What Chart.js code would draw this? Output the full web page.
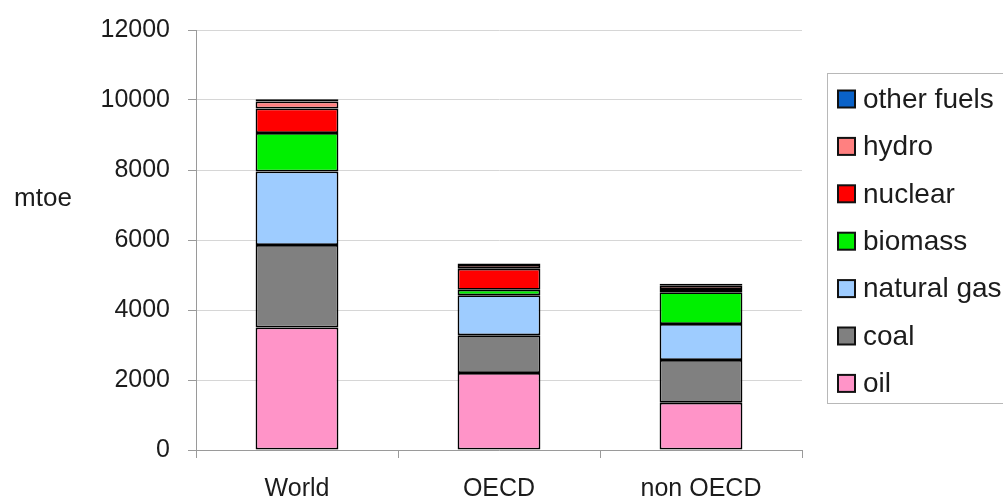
<!DOCTYPE html>
<html>
<head>
<meta charset="utf-8">
<script src="https://cdn.jsdelivr.net/npm/chart.js@4/dist/chart.umd.min.js"></script>
<style>
  html, body { margin: 0; padding: 0; background: #ffffff; overflow: hidden; }
  canvas { display: block; }
</style>
</head>
<body>
<canvas id="energy" width="1003" height="500"></canvas>
<script>
// Primary energy supply by fuel, in mtoe
const regions = ['World', 'OECD', 'non OECD'];
const oil        = [3500, 2200, 1350];
const coal       = [2360, 1080, 1220];
const naturalGas = [2100, 1140, 1030];
const biomass    = [1100,  160,  910];
const nuclear    = [ 700,  600,   90];
const hydro      = [ 200,  105,  110];
const otherFuels = [  60,   45,   40];
const yTicks = [0, 2000, 4000, 6000, 8000, 10000, 12000];
const unitLabel = 'mtoe';

const FONT = '"Liberation Sans", Arial, Helvetica, sans-serif';
const TEXT = '#1c1c1c';

const series = [
  { label: 'oil',         data: oil,        color: '#FF94C8' },
  { label: 'coal',        data: coal,       color: '#808080' },
  { label: 'natural gas', data: naturalGas, color: '#9ECCFF' },
  { label: 'biomass',     data: biomass,    color: '#00F000' },
  { label: 'nuclear',     data: nuclear,    color: '#FF0000' },
  { label: 'hydro',       data: hydro,      color: '#FF8080' },
  { label: 'other fuels', data: otherFuels, color: '#0A62C8' }
];

// Boxed legend on the right (top entry = last stacked series) plus the unit label
const sideLegend = {
  id: 'sideLegend',
  afterDraw(chart) {
    const ctx = chart.ctx;
    const area = chart.chartArea;
    const left = area.right + 25;
    ctx.save();
    ctx.strokeStyle = '#b8b8b8';
    ctx.lineWidth = 1;
    ctx.strokeRect(left + 0.5, 73.5, 260, 330);

    ctx.font = '28px ' + FONT;
    ctx.textBaseline = 'middle';
    ctx.textAlign = 'left';
    const items = chart.data.datasets.slice().reverse();
    items.forEach((ds, i) => {
      const cy = 99 + i * 47.4;
      ctx.fillStyle = ds.backgroundColor;
      ctx.fillRect(left + 11, cy - 8.5, 17, 17);
      ctx.strokeStyle = '#111';
      ctx.lineWidth = 2;
      ctx.strokeRect(left + 11, cy - 8.5, 17, 17);
      ctx.fillStyle = TEXT;
      ctx.fillText(ds.label, left + 36, cy + 1);
    });

    ctx.font = '26px ' + FONT;
    ctx.textAlign = 'center';
    ctx.fillText(unitLabel, 43, 199);
    ctx.restore();
  }
};

new Chart(document.getElementById('energy'), {
  type: 'bar',
  data: {
    labels: regions,
    datasets: series.map(s => ({
      label: s.label,
      data: s.data,
      backgroundColor: s.color,
      borderColor: '#000000',
      borderWidth: 1.75,
      borderSkipped: false,
      barPercentage: 0.41,
      categoryPercentage: 1.0
    }))
  },
  options: {
    responsive: false,
    animation: false,
    devicePixelRatio: 1,
    layout: { padding: { left: 0, right: 201, top: 30, bottom: 0 } },
    plugins: {
      legend: { display: false },
      tooltip: { enabled: false },
      title: { display: false }
    },
    scales: {
      x: {
        stacked: true,
        offset: true,
        grid: {
          offset: true,
          drawOnChartArea: false,
          drawTicks: true,
          tickLength: 8,
          color: '#9a9a9a',
          lineWidth: 1
        },
        border: { display: true, color: '#9a9a9a', width: 1 },
        ticks: {
          padding: 16,
          color: TEXT,
          font: { family: FONT, size: 25 }
        },
        afterFit(scale) { scale.height = 50; }
      },
      y: {
        stacked: true,
        min: yTicks[0],
        max: yTicks[yTicks.length - 1],
        afterBuildTicks(scale) { scale.ticks = yTicks.map(v => ({ value: v })); },
        grid: {
          color: '#d6d6d6',
          lineWidth: 1,
          drawTicks: true,
          tickLength: 8,
          tickColor: '#9a9a9a'
        },
        border: { display: true, color: '#9a9a9a', width: 1 },
        ticks: {
          padding: 18,
          color: TEXT,
          font: { family: FONT, size: 25 },
          callback: v => String(v)
        },
        afterFit(scale) {
          scale.width = 196;
          scale.paddingTop = 0;
          scale.paddingBottom = 0;
        }
      }
    }
  },
  plugins: [sideLegend]
});
</script>
</body>
</html>
